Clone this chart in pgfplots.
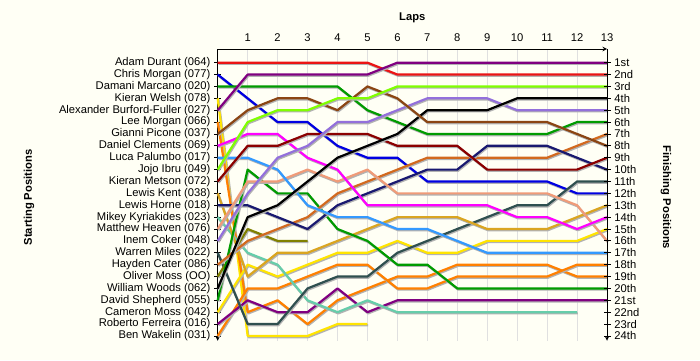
\documentclass[border=0pt]{standalone}
\usepackage{fontspec}
\setmainfont{Liberation Sans}
\usepackage{pgfplots}
\pgfplotsset{compat=1.18}
\definecolor{bg}{RGB}{255,255,245}
\definecolor{cRed}{RGB}{235,20,20}
\definecolor{cBlue}{RGB}{0,0,225}
\definecolor{cGreen}{RGB}{0,155,0}
\definecolor{cYellow}{RGB}{255,228,0}
\definecolor{cPurple}{RGB}{128,0,128}
\definecolor{cOrange}{RGB}{255,128,0}
\definecolor{cBrown}{RGB}{139,69,19}
\definecolor{cMagenta}{RGB}{255,0,255}
\definecolor{cDodger}{RGB}{51,153,255}
\definecolor{cLime}{RGB}{128,255,0}
\definecolor{cDarkRed}{RGB}{139,0,0}
\definecolor{cGold}{RGB}{218,165,32}
\definecolor{cNavy}{RGB}{25,25,112}
\definecolor{cAqua}{RGB}{102,205,170}
\definecolor{cSalmon}{RGB}{240,155,120}
\definecolor{cLavender}{RGB}{147,112,219}
\definecolor{cSlate}{RGB}{47,79,79}
\definecolor{cChoc}{RGB}{210,105,30}
\definecolor{cOlive}{RGB}{128,128,0}
\pgfplotsset{
  lapax/.style={
    at={(217.7bp,19.3bp)}, anchor=south west, scale only axis,
    width=389.3bp, height=291.7bp,
    xmin=0, xmax=13, ymin=-0.15, ymax=24.4, y dir=reverse,
    axis line style={-, line width=1bp, black},
    tick align=outside, major tick length=7bp,
    tick style={black, line width=0.8bp},
    clip=false,
  }
}
\begin{document}
\fontsize{11.2bp}{13bp}\selectfont
\begin{tikzpicture}[x=1bp,y=1bp]
\fill[bg] (0,0) rectangle (700,360);
\begin{axis}[lapax,
  axis x line=top, axis y line=left,
  xtick={0,...,13}, xticklabels={,1,2,3,4,5,6,7,8,9,10,11,12,13},
  x tick style={draw=none},
  xmajorgrids, major grid style={black!12, line width=0.8bp},
  ytick={1,...,24},
  yticklabels={Adam Durant (064),Chris Morgan (077),Damani Marcano (020),Kieran Welsh (078),Alexander Burford-Fuller (027),Lee Morgan (066),Gianni Picone (037),Daniel Clements (069),Luca Palumbo (017),Jojo Ibru (049),Kieran Metson (072),Lewis Kent (038),Lewis Horne (018),Mikey Kyriakides (023),Matthew Heaven (076),Inem Coker (048),Warren Miles (022),Hayden Cater (086),Oliver Moss (OO),William Woods (062),David Shepherd (055),Cameron Moss (042),Roberto Ferreira (016),Ben Wakelin (031)},
  every axis plot/.append style={line width=2.2bp, line join=round,
    preaction={draw=black!30, line width=2.2bp, transform canvas={xshift=0.8bp,yshift=-1.2bp}}},
]
% Adam Durant
\addplot[cRed] coordinates {(0,1)(1,1)(2,1)(3,1)(4,1)(5,1)(6,2)(7,2)(8,2)(9,2)(10,2)(11,2)(12,2)(13,2)};
% Chris Morgan
\addplot[cBlue] coordinates {(0,2)(1,4)(2,6)(3,6)(4,8)(5,9)(6,9)(7,11)(8,11)(9,11)(10,11)(11,11)(12,12)(13,12)};
% Damani Marcano
\addplot[cGreen] coordinates {(0,3)(1,3)(2,3)(3,3)(4,3)(5,5)(6,6)(7,7)(8,7)(9,7)(10,7)(11,7)(12,6)(13,6)};
% Kieran Welsh
\addplot[cYellow] coordinates {(0,4)(1,24)(2,24)(3,24)(4,23)(5,23)};
% Lee Morgan
\addplot[cOrange] coordinates {(0,6)(1,22)(2,21)(3,23)(4,21)(5,20)(6,19)(7,19)(8,18)(9,18)(10,18)(11,18)(12,19)(13,19)};
% Ben Wakelin
\addplot[cOrange] coordinates {(0,24)(1,20)(2,20)(3,19)(4,18)(5,18)(6,20)(7,20)(8,19)(9,19)(10,19)(11,19)(12,18)(13,18)};
% Roberto Ferreira
\addplot[cPurple] coordinates {(0,23)(1,21)(2,22)(3,22)(4,20)(5,22)(6,21)(7,21)(8,21)(9,21)(10,21)(11,21)(12,21)(13,21)};
% Cameron Moss
\addplot[cYellow] coordinates {(0,22)(1,18)(2,19)(3,18)(4,17)(5,17)(6,16)(7,17)(8,17)(9,16)(10,16)(11,16)(12,16)(13,15)};
% Mikey Kyriakides
\addplot[cAqua] coordinates {(0,14)(1,17)(2,18)(3,21)(4,22)(5,21)(6,22)(7,22)(8,22)(9,22)(10,22)(11,22)(12,22)};
% Warren Miles
\addplot[cSlate] coordinates {(0,17)(1,23)(2,23)(3,20)(4,19)(5,19)(6,17)(7,16)(8,15)(9,14)(10,13)(11,13)(12,11)(13,11)};
% Oliver Moss
\addplot[cOlive] coordinates {(0,19)(1,15)(2,16)(3,16)};
% Lewis Kent
\addplot[cGold] coordinates {(0,12)(1,19)(2,17)(3,17)(4,16)(5,15)(6,14)(7,14)(8,14)(9,15)(10,15)(11,15)(12,14)(13,13)};
% David Shepherd
\addplot[cGreen] coordinates {(0,21)(1,10)(2,12)(3,12)(4,15)(5,16)(6,18)(7,18)(8,20)(9,20)(10,20)(11,20)(12,20)(13,20)};
% Hayden Cater
\addplot[cChoc] coordinates {(0,18)(1,16)(2,15)(3,14)(4,12)(5,11)(6,10)(7,9)(8,9)(9,9)(10,9)(11,9)(12,8)(13,7)};
% Lewis Horne
\addplot[cNavy] coordinates {(0,13)(1,13)(2,14)(3,15)(4,13)(5,12)(6,11)(7,10)(8,10)(9,8)(10,8)(11,8)(12,9)(13,10)};
% Matthew Heaven
\addplot[cSalmon] coordinates {(0,15)(1,11)(2,11)(3,10)(4,11)(5,10)(6,12)(7,12)(8,12)(9,12)(10,12)(11,12)(12,13)(13,16)};
% Luca Palumbo
\addplot[cDodger] coordinates {(0,9)(1,9)(2,10)(3,13)(4,14)(5,14)(6,15)(7,15)(8,16)(9,17)(10,17)(11,17)(12,17)(13,17)};
% Daniel Clements
\addplot[cMagenta] coordinates {(0,8)(1,7)(2,7)(3,9)(4,10)(5,13)(6,13)(7,13)(8,13)(9,13)(10,14)(11,14)(12,15)(13,14)};
% Kieran Metson
\addplot[cDarkRed] coordinates {(0,11)(1,8)(2,8)(3,7)(4,7)(5,7)(6,8)(7,8)(8,8)(9,10)(10,10)(11,10)(12,10)(13,9)};
% Inem Coker
\addplot[cLavender] coordinates {(0,16)(1,12)(2,9)(3,8)(4,6)(5,6)(6,5)(7,4)(8,4)(9,4)(10,5)(11,5)(12,5)(13,5)};
% William Woods
\addplot[black] coordinates {(0,20)(1,14)(2,13)(3,11)(4,9)(5,8)(6,7)(7,5)(8,5)(9,5)(10,4)(11,4)(12,4)(13,4)};
% Gianni Picone
\addplot[cBrown] coordinates {(0,7)(1,5)(2,4)(3,4)(4,5)(5,3)(6,4)(7,6)(8,6)(9,6)(10,6)(11,6)(12,7)(13,8)};
% Jojo Ibru
\addplot[cLime] coordinates {(0,10)(1,6)(2,5)(3,5)(4,4)(5,4)(6,3)(7,3)(8,3)(9,3)(10,3)(11,3)(12,3)(13,3)};
% Alexander Burford-Fuller
\addplot[cPurple] coordinates {(0,5)(1,2)(2,2)(3,2)(4,2)(5,2)(6,1)(7,1)(8,1)(9,1)(10,1)(11,1)(12,1)(13,1)};
\end{axis}
\begin{axis}[lapax,
  axis x line=none, axis y line=right, xtick=\empty,
  ytick={1,...,24},
  yticklabels={1st,2nd,3rd,4th,5th,6th,7th,8th,9th,10th,11th,12th,13th,14th,15th,16th,17th,18th,19th,20th,21st,22nd,23rd,24th},
]
\addplot[draw=none] coordinates {(0,1)(13,24)};
\end{axis}
\node[font=\bfseries] at (412.3,342) {Laps};
\node[font=\bfseries, rotate=90] at (29,162.5) {Starting Positions};
\node[font=\bfseries, rotate=-90] at (666,162.5) {Finishing Positions};
\end{tikzpicture}
\end{document}
